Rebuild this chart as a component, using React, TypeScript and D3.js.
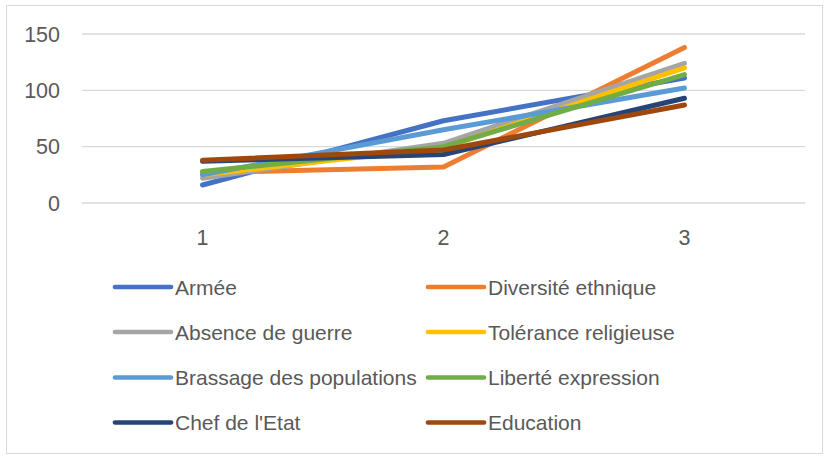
import React from "react";
import * as d3 from "d3";

const categories = ["1", "2", "3"];
const seriesNames = [
  "Armée",
  "Diversité ethnique",
  "Absence de guerre",
  "Tolérance religieuse",
  "Brassage des populations",
  "Liberté expression",
  "Chef de l'Etat",
  "Education",
];
const seriesColors = [
  "#4472c4",
  "#ed7d31",
  "#a5a5a5",
  "#ffc000",
  "#5b9bd5",
  "#70ad47",
  "#264478",
  "#9e480e",
];
const armee = [16, 73, 111];
const diversite = [27, 32, 138];
const absence = [22, 53, 124];
const tolerance = [25, 49, 120];
const brassage = [25, 65, 102];
const liberte = [28, 50, 114];
const chef = [37, 43, 93];
const education = [38, 47, 87];
const seriesValues = [armee, diversite, absence, tolerance, brassage, liberte, chef, education];
const yTicks = [0, 50, 100, 150];

export default function App() {
  const W = 825;
  const H = 456;
  const x = d3.scaleBand<string>().domain(categories).range([82, 805]);
  const y = d3.scaleLinear().domain([0, 150]).range([203, 34]);
  const line = d3
    .line<number>()
    .x((_, i) => (x(categories[i]) as number) + x.bandwidth() / 2)
    .y((v) => y(v));
  const font = "'Liberation Sans', Arial, sans-serif";
  const legendCols = [115, 428];
  const legendRows = [287, 332, 377.5, 422.5];
  return (
    <svg
      width={W}
      height={H}
      style={{ position: "absolute", left: 0, top: 0 }}
      fontFamily={font}
    >
      <rect x={0} y={0} width={W} height={H} fill="#fff" />
      <rect x={6.5} y={5.5} width={816} height={448} fill="none" stroke="#d9d9d9" />
      {yTicks.map((t) => (
        <g key={t}>
          <line x1={82} x2={805} y1={y(t)} y2={y(t)} stroke="#d9d9d9" strokeWidth={1.3} />
          <text x={60} y={y(t)} dy="0.36em" textAnchor="end" fontSize={21.5} fill="#595959">
            {t}
          </text>
        </g>
      ))}
      {categories.map((c) => (
        <text
          key={c}
          x={(x(c) as number) + x.bandwidth() / 2}
          y={237}
          dy="0.36em"
          textAnchor="middle"
          fontSize={21.5}
          fill="#595959"
        >
          {c}
        </text>
      ))}
      {seriesValues.map((vals, i) => (
        <path
          key={i}
          d={line(vals) || ""}
          fill="none"
          stroke={seriesColors[i]}
          strokeWidth={5}
          strokeLinecap="round"
          strokeLinejoin="round"
        />
      ))}
      {seriesNames.map((name, i) => {
        const lx = legendCols[i % 2];
        const ly = legendRows[Math.floor(i / 2)];
        return (
          <g key={name}>
            <line
              x1={lx}
              x2={lx + 56}
              y1={ly}
              y2={ly}
              stroke={seriesColors[i]}
              strokeWidth={4.7}
              strokeLinecap="round"
            />
            <text x={lx + 60} y={ly} dy="0.36em" fontSize={21} fill="#595959">
              {name}
            </text>
          </g>
        );
      })}
    </svg>
  );
}
